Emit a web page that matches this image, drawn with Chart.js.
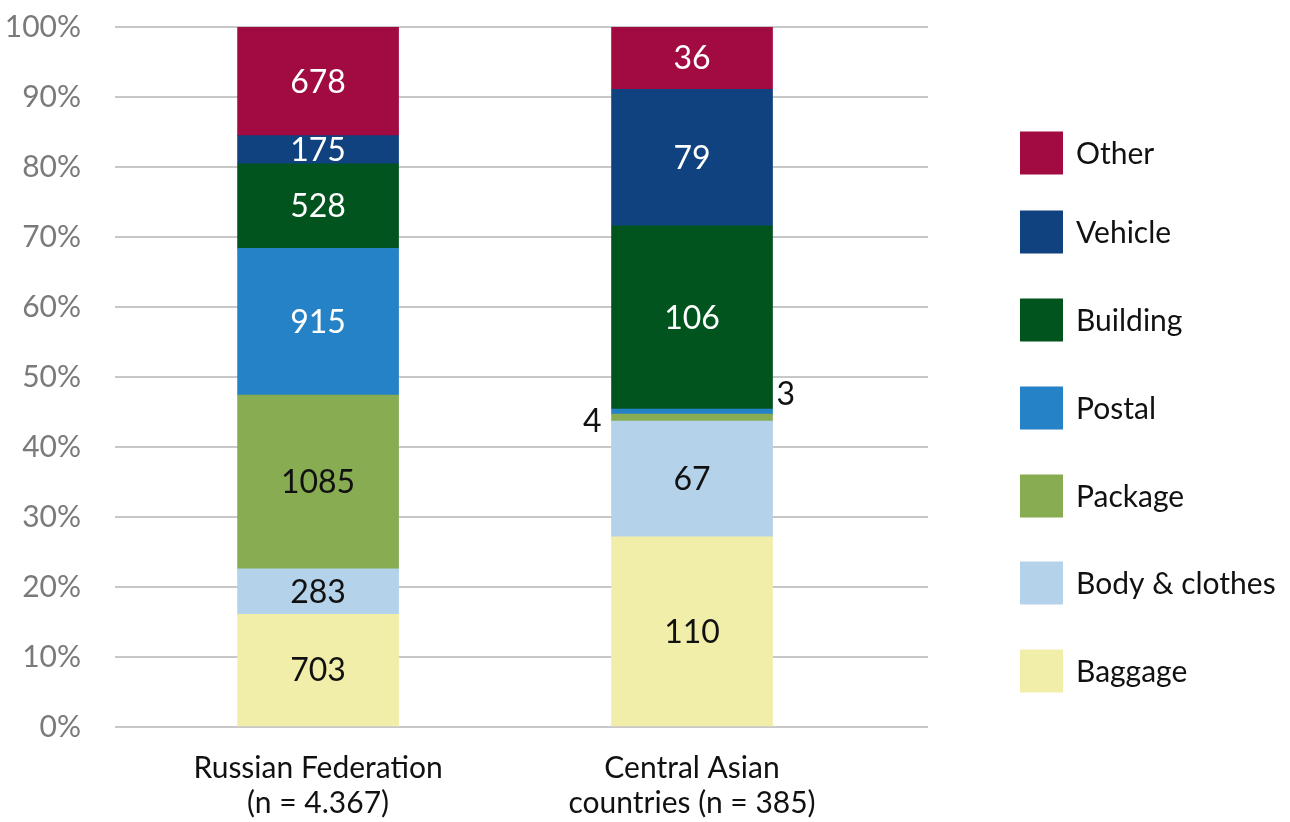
<!DOCTYPE html>
<html>
<head>
<meta charset="utf-8">
<script src="https://cdn.jsdelivr.net/npm/chart.js@4"></script>
<style>
  html, body { margin: 0; padding: 0; background: #fff; }
  #wrap { width: 1290px; height: 822px; }
</style>
</head>
<body>
<div id="wrap"><canvas id="chart" width="1290" height="822"></canvas></div>
<script>
// categories (x = 0, 1)
const regions = [['Russian Federation', '(n = 4.367)'], ['Central Asian', 'countries (n = 385)']];

// counts per type, bottom to top
const types = ['Baggage', 'Body & clothes', 'Package', 'Postal', 'Building', 'Vehicle', 'Other'];
const baggage  = [703, 110];
const body     = [283, 67];
const pkg      = [1085, 4];
const postal   = [915, 3];
const building = [528, 106];
const vehicle  = [175, 79];
const other    = [678, 36];

const yTicks = [0, 10, 20, 30, 40, 50, 60, 70, 80, 90, 100];

const colors = ['#f1eeaa', '#b4d2ea', '#87ac52', '#2582c6', '#02541f', '#0f427e', '#a20a42'];
const labelColors = ['#111', '#111', '#111', '#fff', '#fff', '#fff', '#fff'];
// small segments get their number outside the bar
const outside = { 'Package': 'left', 'Postal': 'right' };

const counts = [baggage, body, pkg, postal, building, vehicle, other];
const totals = regions.map((_, i) => counts.reduce((s, arr) => s + arr[i], 0));

const datasets = types.map((t, k) => ({
  label: t,
  data: counts[k].map((v, i) => ({ x: i, y: v / totals[i] * 100 })),
  raw: counts[k],
  backgroundColor: colors[k],
  borderWidth: 0,
  barThickness: 161,
  labelColor: labelColors[k]
}));

const valueLabels = {
  id: 'valueLabels',
  afterDatasetsDraw(chart) {
    const ctx = chart.ctx;
    ctx.save();
    ctx.font = '32px Lato';
    chart.data.datasets.forEach((ds, k) => {
      const meta = chart.getDatasetMeta(k);
      meta.data.forEach((bar, i) => {
        const h = Math.abs(bar.base - bar.y);
        const cy = (bar.y + bar.base) / 2;
        const txt = String(ds.raw[i]);
        if (h < 15 && outside[ds.label]) {
          ctx.fillStyle = '#111';
          ctx.textBaseline = 'middle';
          if (outside[ds.label] === 'left') {
            ctx.textAlign = 'right';
            ctx.fillText(txt, bar.x - bar.width / 2 - 10, cy + 4);
          } else {
            ctx.textAlign = 'left';
            ctx.fillText(txt, bar.x + bar.width / 2 + 4, cy - 17);
          }
        } else {
          ctx.fillStyle = ds.labelColor;
          ctx.textAlign = 'center';
          ctx.textBaseline = 'middle';
          ctx.fillText(txt, bar.x, cy + 1);
        }
      });
    });
    ctx.restore();
  }
};

// legend on the right, top item first
const sideLegend = {
  id: 'sideLegend',
  afterDraw(chart) {
    const ctx = chart.ctx;
    const centers = [153, 232, 320, 408, 496, 583, 671];
    const order = chart.data.datasets.slice().reverse();
    ctx.save();
    ctx.font = '30px Lato';
    ctx.textAlign = 'left';
    ctx.textBaseline = 'middle';
    order.forEach((ds, j) => {
      const cy = centers[j];
      ctx.fillStyle = ds.backgroundColor;
      ctx.fillRect(1020, cy - 21.5, 43, 43);
      ctx.fillStyle = '#111';
      ctx.fillText(ds.label, 1076, cy + 1);
    });
    ctx.restore();
  }
};

new Chart(document.getElementById('chart'), {
  type: 'bar',
  data: { datasets },
  plugins: [valueLabels, sideLegend],
  options: {
    responsive: false,
    animation: false,
    layout: { padding: { left: 0, right: 362, top: 27, bottom: 0 } },
    plugins: { legend: { display: false }, tooltip: { enabled: false } },
    scales: {
      x: {
        type: 'linear',
        stacked: true,
        offset: false,
        min: -0.543,
        max: 1.631,
        afterBuildTicks(scale) { scale.ticks = [{ value: 0 }, { value: 1 }]; },
        afterFit(scale) { scale.height = 95; scale.paddingLeft = 0; scale.paddingRight = 0; },
        grid: { display: false },
        border: { display: false },
        ticks: {
          callback: v => regions[v],
          font: { family: 'Lato', size: 30, lineHeight: 1.17 },
          color: '#111',
          padding: 16,
          maxRotation: 0,
          autoSkip: false
        }
      },
      y: {
        stacked: true,
        min: 0,
        max: 100,
        afterBuildTicks(scale) { scale.ticks = yTicks.map(v => ({ value: v })); },
        afterFit(scale) { scale.width = 115; scale.paddingTop = 0; scale.paddingBottom = 0; },
        grid: { color: '#c8c8c8', lineWidth: 2, drawTicks: false },
        border: { display: false },
        ticks: {
          callback: v => v + '%',
          font: { family: 'Lato', size: 30 },
          color: '#7a7a7a',
          padding: 34
        }
      }
    }
  }
});
</script>
</body>
</html>
